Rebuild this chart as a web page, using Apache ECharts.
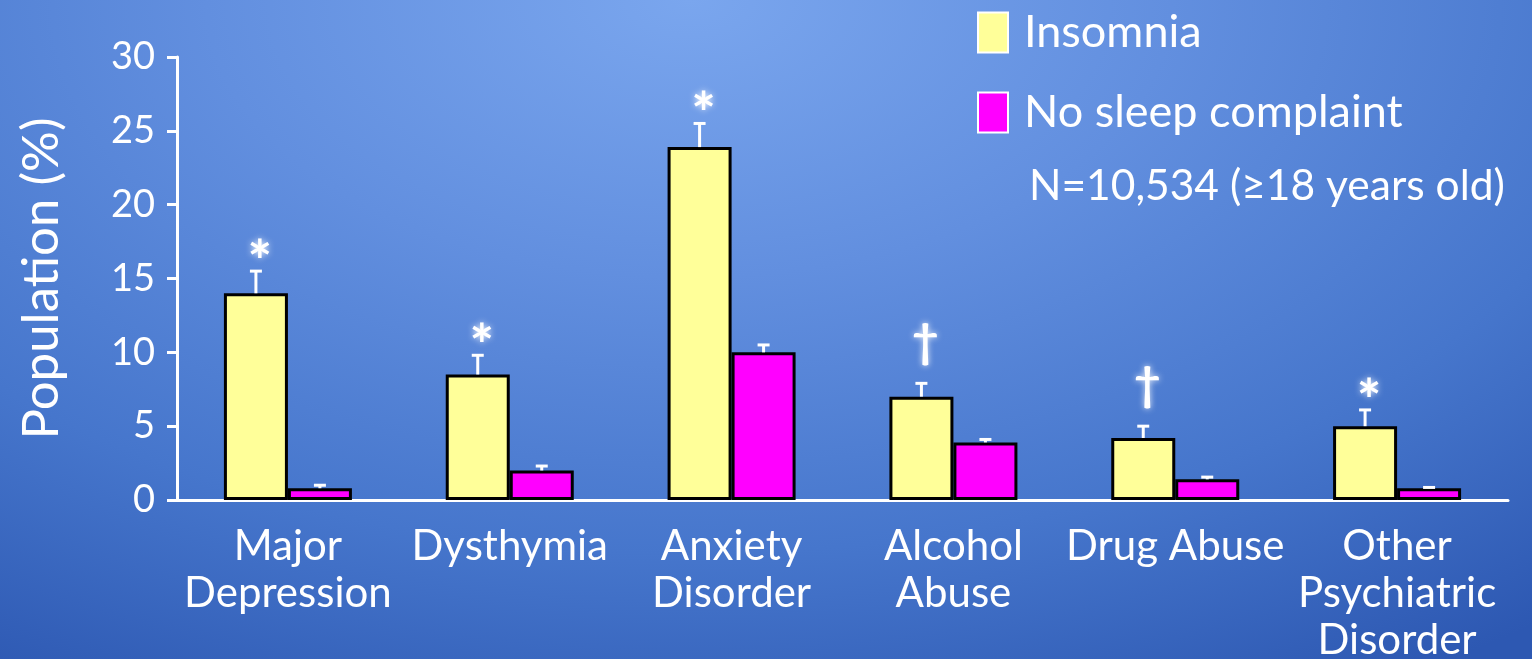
<!DOCTYPE html>
<html>
<head>
<meta charset="utf-8">
<script src="https://cdn.jsdelivr.net/npm/echarts@6/dist/echarts.min.js"></script>
<style>
html,body{margin:0;padding:0;width:1532px;height:659px;overflow:hidden;}
body{background:radial-gradient(ellipse 90% 120% at 45% 0%, #7aa6ee 0%, #628fdf 35%, #4676cc 70%, #2d58b2 100%);}
#c{width:1532px;height:659px;}
</style>
</head>
<body>
<div id="c"></div>
<script>
const categories = ['Major\nDepression', 'Dysthymia', 'Anxiety\nDisorder', 'Alcohol\nAbuse', 'Drug Abuse', 'Other\nPsychiatric\nDisorder'];
const insomnia = [14.0, 8.5, 23.9, 7.0, 4.2, 5.0];
const insomniaErr = [15.5, 9.8, 25.5, 7.9, 5.0, 6.1];
const noComplaint = [0.8, 2.0, 10.0, 3.9, 1.4, 0.8];
const noComplaintErr = [1.0, 2.3, 10.5, 4.1, 1.55, 0.85];
const marks = ['*', '*', '*', '\u2020', '\u2020', '*'];
const yTicks = [0, 5, 10, 15, 20, 25, 30];

const FONT = 'Lato, "Open Sans", sans-serif';
const BW = 64;

function errSeries(name, errs, vals, offset, withMarks) {
  return {
    type: 'custom',
    name: name,
    z: 5,
    data: errs.map((e, i) => [i, e, vals[i]]),
    renderItem: function (params, api) {
      const i = api.value(0);
      const top = api.coord([i, api.value(1)]);
      const base = api.coord([i, api.value(2)]);
      const x = top[0] + offset;
      const children = [
        {type: 'line', shape: {x1: x, y1: base[1], x2: x, y2: top[1]}, style: {stroke: '#fff', lineWidth: 3}},
        {type: 'line', shape: {x1: x - 6, y1: top[1], x2: x + 6, y2: top[1]}, style: {stroke: '#fff', lineWidth: 3}}
      ];
      if (withMarks) {
        const m = marks[i];
        const isStar = m === '*';
        children.push({
          type: 'text',
          style: {
            text: m,
            x: x + 4,
            y: isStar ? top[1] - 8 : top[1] - 18,
            align: 'center',
            verticalAlign: isStar ? 'middle' : 'bottom',
            fill: '#fff',
            font: isStar ? 'bold 58px Lato, sans-serif' : 'bold 46px Lato, sans-serif',
            textShadowColor: 'rgba(255,255,255,0.9)',
            textShadowBlur: 6
          }
        });
      }
      return {type: 'group', children: children};
    }
  };
}

const chart = echarts.init(document.getElementById('c'), null, {renderer: 'canvas'});
chart.setOption({
  backgroundColor: 'transparent',
  animation: false,
  title: {
    text: 'N=10,534 (\u226518 years old)',
    left: 1024,
    top: 157,
    textStyle: {color: '#fff', fontFamily: FONT, fontSize: 42.5, fontWeight: 'normal', lineHeight: 48}
  },
  legend: {
    data: ['Insomnia', 'No sleep complaint'],
    orient: 'vertical',
    left: 977,
    top: 10,
    padding: 0,
    itemWidth: 30,
    itemHeight: 40,
    itemGap: 35,
    icon: 'rect',
    selectedMode: false,
    itemStyle: {borderColor: '#fff', borderWidth: 2},
    textStyle: {color: '#fff', fontFamily: FONT, fontSize: 45, lineHeight: 40, padding: [0, 0, 0, 11]}
  },
  grid: {left: 177, right: 24, top: 57, bottom: 159, containLabel: false, outerBoundsMode: 'none'},
  xAxis: {
    type: 'category',
    data: categories,
    axisLine: {lineStyle: {color: '#fff', width: 3}},
    axisTick: {length: 10, lineStyle: {color: '#fff', width: 3}},
    axisLabel: {interval: 0, color: '#fff', fontFamily: FONT, fontSize: 42, lineHeight: 47, margin: 23}
  },
  yAxis: {
    type: 'value',
    min: yTicks[0],
    max: yTicks[yTicks.length - 1],
    interval: 5,
    name: 'Population (%)',
    nameLocation: 'middle',
    nameGap: 110,
    nameTextStyle: {color: '#fff', fontFamily: FONT, fontSize: 51},
    splitLine: {show: false},
    axisLine: {show: true, lineStyle: {color: '#fff', width: 3}},
    axisTick: {show: true, length: 10, lineStyle: {color: '#fff', width: 3}},
    axisLabel: {color: '#fff', fontFamily: FONT, fontSize: 38, margin: 22}
  },
  series: [
    {
      type: 'bar', name: 'Insomnia', data: insomnia, barWidth: BW, barGap: '0%',
      itemStyle: {color: '#ffff99', borderColor: '#000', borderWidth: 3}
    },
    {
      type: 'bar', name: 'No sleep complaint', data: noComplaint, barWidth: BW, barGap: '0%',
      itemStyle: {color: '#ff00ff', borderColor: '#000', borderWidth: 3}
    },
    errSeries('errIns', insomniaErr, insomnia, -BW / 2, true),
    errSeries('errNo', noComplaintErr, noComplaint, BW / 2, false)
  ]
});
</script>
</body>
</html>
